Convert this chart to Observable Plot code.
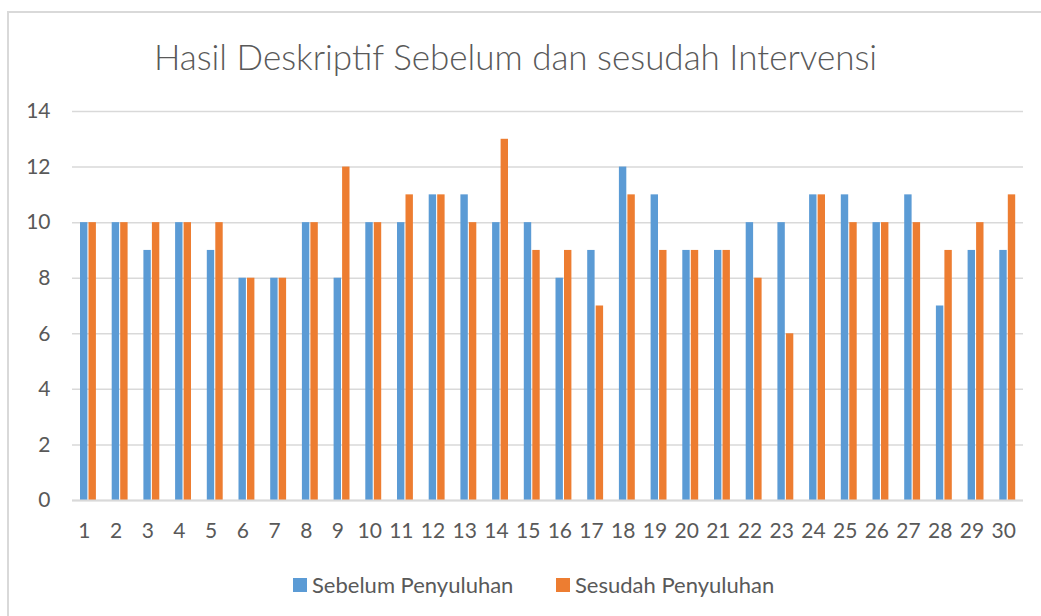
<!DOCTYPE html>
<html>
<head>
<meta charset="utf-8">
<script src="https://cdn.jsdelivr.net/npm/d3@7"></script>
<script src="https://cdn.jsdelivr.net/npm/@observablehq/plot@0.6"></script>
<style>
  html, body { margin: 0; padding: 0; background: #fff; }
  #wrap { position: relative; width: 1041px; height: 616px; overflow: hidden; font-family: Lato, "Liberation Sans", sans-serif; }
  #frame { position: absolute; left: 7px; top: 11px; width: 1100px; height: 700px; border-left: 2px solid #d9d9d9; border-top: 2px solid #d9d9d9; }
  #title { position: absolute; left: 0; width: 1031px; top: 35px; text-align: center; font-size: 35px; color: #595959; font-weight: 300; white-space: nowrap; }
  #chart { position: absolute; left: 0; top: 0; width: 1041px; }
  #legend { position: absolute; top: 571px; left: 0; width: 1041px; height: 26px; font-size: 22px; color: #595959; }
  .item { position: absolute; top: 0; display: flex; align-items: center; }
  .sw { width: 14px; height: 14px; margin-right: 5px; }
</style>
</head>
<body>
<div id="wrap">
  <div id="frame"></div>
  <div id="title">Hasil Deskriptif Sebelum dan sesudah Intervensi</div>
  <div id="chart"></div>
  <div id="legend"></div>
</div>
<script>
const categories = ["1","2","3","4","5","6","7","8","9","10","11","12","13","14","15","16","17","18","19","20","21","22","23","24","25","26","27","28","29","30"];
const sebelum = [10,10,9,10,9,8,8,10,8,10,10,11,11,10,10,8,9,12,11,9,9,10,10,11,11,10,11,7,9,9];
const sesudah = [10,10,10,10,10,8,8,10,12,10,11,11,10,13,9,9,7,11,9,9,9,8,6,11,10,10,10,9,10,11];
const seriesNames = ["Sebelum Penyuluhan", "Sesudah Penyuluhan"];
const seriesColors = ["#5B9BD5", "#ED7D31"];
const yTicks = [0,2,4,6,8,10,12,14];

const dataA = categories.map((c, i) => ({cat: c, value: sebelum[i], series: seriesNames[0]}));
const dataB = categories.map((c, i) => ({cat: c, value: sesudah[i], series: seriesNames[1]}));

const chart = Plot.plot({
  width: 1041,
  height: 560,
  marginTop: 111,
  marginBottom: 60,
  marginLeft: 72,
  marginRight: 18,
  style: { fontFamily: "Lato, 'Liberation Sans', sans-serif", color: "#595959", background: "transparent" },
  x: { domain: categories, padding: 0, round: false },
  y: { domain: [0, 14] },
  color: { domain: seriesNames, range: seriesColors },
  marks: [
    Plot.gridY(yTicks, { stroke: "#d9d9d9", strokeOpacity: 1, strokeWidth: 1.5 }),
    Plot.barY(dataA, { x: "cat", y: "value", fill: "series", insetLeft: 8, insetRight: 16.3 }),
    Plot.barY(dataB, { x: "cat", y: "value", fill: "series", insetLeft: 16.5, insetRight: 7.8 }),
    Plot.ruleY([0], { stroke: "#d9d9d9", strokeWidth: 2 }),
    Plot.axisY(yTicks, { tickSize: 0, tickPadding: 22, fontSize: 21, fill: "#595959", label: null }),
    Plot.axisX({ tickSize: 0, tickPadding: 23, fontSize: 21, fill: "#595959", label: null, dx: -4 })
  ]
});
document.getElementById("chart").appendChild(chart);

const legend = document.getElementById("legend");
const lefts = [293, 556];
seriesNames.forEach((name, i) => {
  const item = document.createElement("div");
  item.className = "item";
  item.style.left = lefts[i] + "px";
  const sw = document.createElement("div");
  sw.className = "sw";
  sw.style.background = seriesColors[i];
  const t = document.createElement("span");
  t.textContent = name;
  item.appendChild(sw);
  item.appendChild(t);
  legend.appendChild(item);
});
</script>
</body>
</html>
